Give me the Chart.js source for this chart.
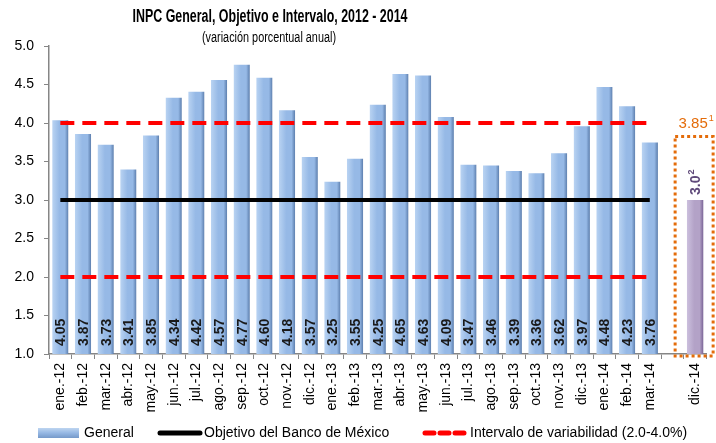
<!DOCTYPE html>
<html>
<head>
<meta charset="utf-8">
<script src="https://cdn.jsdelivr.net/npm/chart.js@4/dist/chart.umd.min.js"></script>
<style>
  html, body { margin: 0; padding: 0; background: #fff; }
  #wrap { width: 716px; height: 443px; position: relative; }
</style>
</head>
<body>
<div id="wrap"><canvas id="inpc" width="716" height="443"></canvas></div>
<script>
// datos
const meses = ['ene.-12','feb.-12','mar.-12','abr.-12','may.-12','jun.-12','jul.-12','ago.-12','sep.-12','oct.-12','nov.-12','dic.-12',
               'ene.-13','feb.-13','mar.-13','abr.-13','may.-13','jun.-13','jul.-13','ago.-13','sep.-13','oct.-13','nov.-13','dic.-13',
               'ene.-14','feb.-14','mar.-14'];
const etiquetas = meses.concat(['', 'dic.-14']);
const general = [4.05,3.87,3.73,3.41,3.85,4.34,4.42,4.57,4.77,4.60,4.18,3.57,
                 3.25,3.55,4.25,4.65,4.63,4.09,3.47,3.46,3.39,3.36,3.62,3.97,
                 4.48,4.23,3.76];
const objetivo = 3.0;
const intervalo = [2.0, 4.0];
const pronostico = 3.0;      // dic-14, nota 2
const encuesta = 3.85;       // dic-14, nota 1
const yTicks = [1.0,1.5,2.0,2.5,3.0,3.5,4.0,4.5,5.0];

const FONT = "'Liberation Sans', Arial, sans-serif";

const fill = (arr, extra) => arr.concat(extra);
const nulls = n => Array(n).fill(null);

function barGrad(ctx, c1, c2, c3) {
  const chart = ctx.chart;
  if (!chart.chartArea || !chart.scales.x) return c2;
  const x = chart.scales.x.getPixelForValue(ctx.dataIndex);
  const w = 16;
  const g = chart.ctx.createLinearGradient(x - w/2, 0, x + w/2, 0);
  g.addColorStop(0, c1);
  g.addColorStop(0.45, c2);
  g.addColorStop(0.78, c2);
  g.addColorStop(1, c3);
  return g;
}

const extras = {
  id: 'extras',
  afterDatasetsDraw(chart) {
    const c = chart.ctx, xs = chart.scales.x, ys = chart.scales.y;
    // valores dentro de las barras
    const meta = chart.getDatasetMeta(0);
    c.save();
    c.fillStyle = '#1a1a1a';
    c.font = 'bold 14px ' + FONT;
    c.textBaseline = 'middle';
    c.textAlign = 'left';
    meta.data.forEach((bar, i) => {
      if (general[i] == null) return;
      c.save();
      c.translate(bar.x + 1, ys.getPixelForValue(1.0) - 8);
      c.rotate(-Math.PI/2);
      c.fillText(general[i].toFixed(2), 0, 0);
      c.restore();
    });
    // dic-14
    const xd = xs.getPixelForValue(28);
    c.save();
    c.fillStyle = '#5f497a';
    c.translate(xd + 1, ys.getPixelForValue(pronostico) - 5);
    c.rotate(-Math.PI/2);
    c.font = 'bold 14px ' + FONT;
    c.fillText(pronostico.toFixed(1), 0, 0);
    const w = c.measureText(pronostico.toFixed(1)).width;
    c.font = 'bold 9px ' + FONT;
    c.fillText('2', w + 1, -5);
    c.restore();
    // recuadro punteado
    c.strokeStyle = '#e46c0a';
    c.lineWidth = 3;
    c.setLineDash([3, 3]);
    const top = ys.getPixelForValue(encuesta) + 2, bot = ys.getPixelForValue(1.0) + 2;
    c.strokeRect(xd - 20, top, 38, bot - top);
    c.setLineDash([]);
    c.fillStyle = '#e46c0a';
    c.font = '15px ' + FONT;
    c.textBaseline = 'alphabetic';
    c.textAlign = 'left';
    const t = encuesta.toFixed(2);
    const tw = c.measureText(t).width;
    c.fillText(t, xd - tw/2 - 2, top - 9);
    c.font = '9px ' + FONT;
    c.fillText('1', xd + tw/2 - 1, top - 16);
    c.restore();
  },
  afterDraw(chart) {
    const c = chart.ctx;
    c.save();
    // titulo
    c.fillStyle = '#000';
    c.textAlign = 'center';
    c.textBaseline = 'middle';
    c.font = 'bold 18px ' + FONT;
    c.fillText('INPC General, Objetivo e Intervalo, 2012 - 2014', 270, 17, 275);
    c.font = '14px ' + FONT;
    c.fillText('(variación porcentual anual)', 269, 38, 134);
    // leyenda
    const ly = 433;
    c.textAlign = 'left';
    c.font = '14px ' + FONT;
    const g = c.createLinearGradient(0, ly - 6, 0, ly + 6);
    g.addColorStop(0, '#c6dbf3'); g.addColorStop(0.5, '#95b7e3'); g.addColorStop(1, '#6f93c4');
    c.fillStyle = g;
    c.fillRect(38, ly - 5, 41, 10);
    c.fillStyle = '#000';
    c.fillText('General', 84, ly);
    c.strokeStyle = '#000';
    c.lineWidth = 5;
    c.lineCap = 'round';
    c.beginPath(); c.moveTo(160, ly); c.lineTo(200, ly); c.stroke();
    c.fillText('Objetivo del Banco de México', 204, ly, 195);
    c.strokeStyle = '#ff0000';
    c.setLineDash([9, 6]);
    c.beginPath(); c.moveTo(425, ly); c.lineTo(466, ly); c.stroke();
    c.setLineDash([]);
    c.fillText('Intervalo de variabilidad (2.0-4.0%)', 470, ly, 224);
    c.restore();
  }
};

new Chart(document.getElementById('inpc'), {
  data: {
    labels: etiquetas,
    datasets: [
      { type: 'bar', label: 'General', data: fill(general, [null, null]), order: 3,
        backgroundColor: ctx => barGrad(ctx, '#b9d3f2', '#96b9e6', '#5d7fae'),
        borderColor: 'rgba(255,255,255,0.6)', borderWidth: { top: 1, left: 0, right: 0, bottom: 0 },
        barPercentage: 0.72, categoryPercentage: 1.0 },
      { type: 'bar', label: 'Pronóstico', data: fill(nulls(28), [pronostico]), order: 3,
        backgroundColor: ctx => barGrad(ctx, '#cbbfdd', '#b3a2c7', '#7d6798'),
        barPercentage: 0.72, categoryPercentage: 1.0 },
      { type: 'line', label: 'Objetivo del Banco de México', data: fill(general.map(() => objetivo), [null, null]),
        borderColor: '#000', borderWidth: 4, pointRadius: 0, order: 1 },
      { type: 'line', label: 'Intervalo sup', data: fill(general.map(() => intervalo[1]), [null, null]),
        borderColor: '#ff0000', borderWidth: 4, borderDash: [14, 8], pointRadius: 0, order: 1 },
      { type: 'line', label: 'Intervalo inf', data: fill(general.map(() => intervalo[0]), [null, null]),
        borderColor: '#ff0000', borderWidth: 4, borderDash: [14, 8], pointRadius: 0, order: 1 }
    ]
  },
  options: {
    responsive: false,
    animation: false,
    devicePixelRatio: 1,
    layout: { padding: { left: 0, top: 46, right: 4, bottom: 0 } },
    datasets: { bar: { skipNull: true } },
    plugins: { legend: { display: false }, tooltip: { enabled: false }, title: { display: false } },
    scales: {
      x: {
        offset: true,
        grid: { display: true, drawOnChartArea: false, offset: true, color: '#868686', tickLength: 5 },
        border: { color: '#868686', width: 1.5 },
        ticks: { color: '#000', font: { family: FONT, size: 14 }, minRotation: 90, maxRotation: 90, autoSkip: false, padding: 4 },
        afterFit: s => { s.height = 89; }
      },
      y: {
        min: 1, max: 5,
        afterBuildTicks: s => { s.ticks = yTicks.map(v => ({ value: v })); },
        grid: { display: true, drawOnChartArea: false, color: '#868686', tickLength: 5 },
        border: { color: '#868686', width: 1.5 },
        ticks: { color: '#000', font: { family: FONT, size: 14 }, padding: 10, callback: v => v.toFixed(1) },
        afterFit: s => { s.width = 49; }
      }
    }
  },
  plugins: [extras]
});
</script>
</body>
</html>
